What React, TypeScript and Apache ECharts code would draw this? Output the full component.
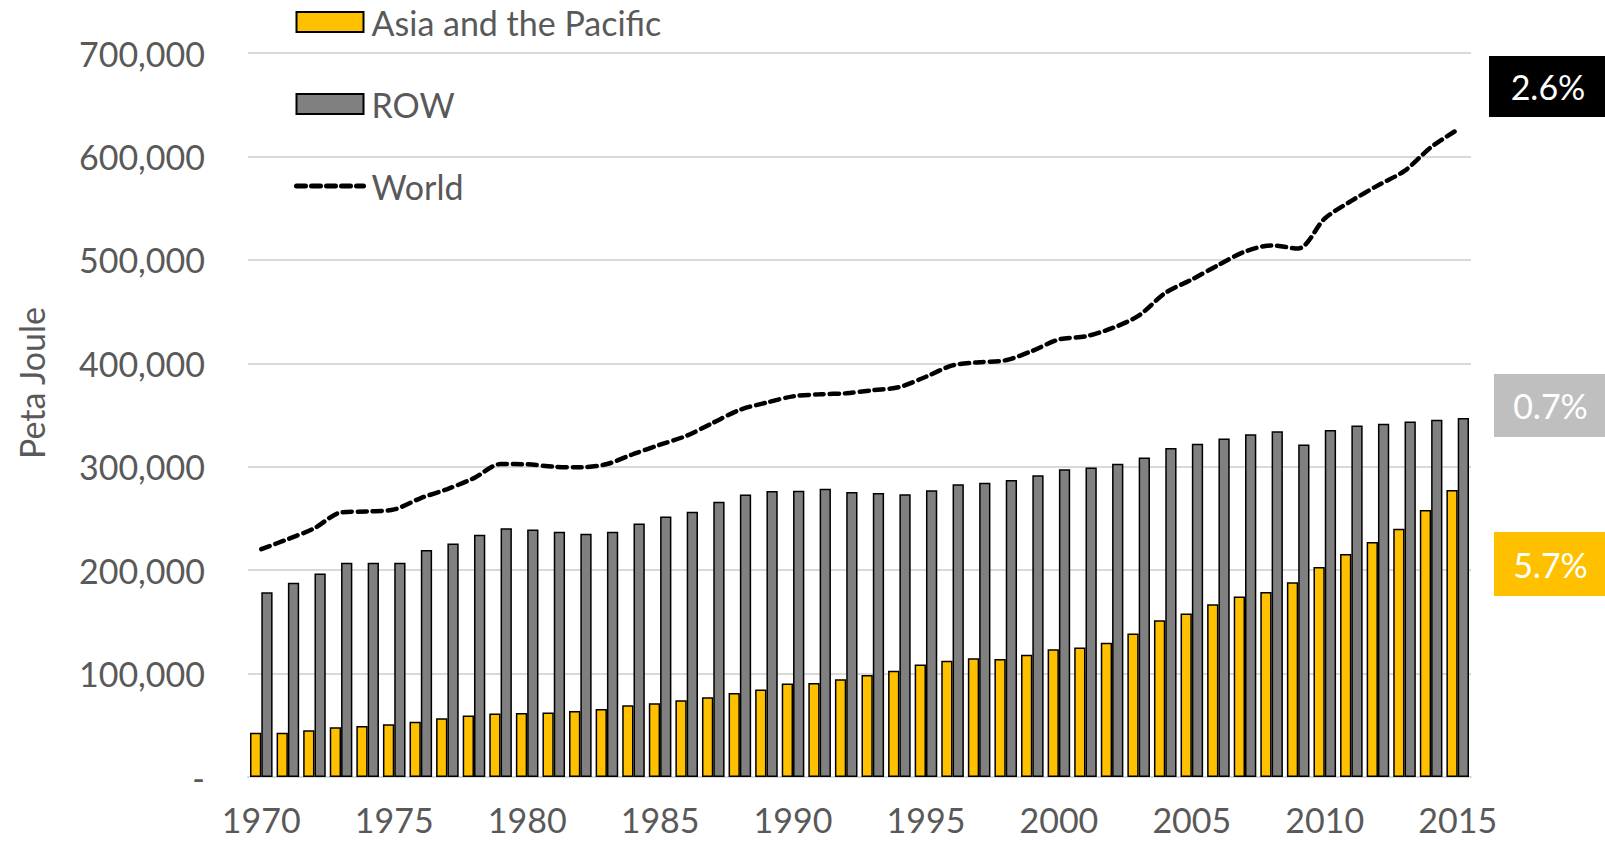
import React, { useEffect, useRef } from "react";
import * as echarts from "echarts";

const years: string[] = [];
for (let y = 1970; y <= 2015; y++) years.push(String(y));

const asiaPacific = [
  42900, 42900, 45200, 48000, 49400, 51000, 53500, 56800, 59400, 61300,
  61900, 62300, 63900, 65800, 69400, 71300, 74200, 77100, 81300, 84500,
  90300, 91000, 94500, 98600, 102800, 108700, 112500, 114900, 114200, 118300,
  123500, 125300, 129800, 138800, 151600, 158100, 167100, 174400, 178900, 188200,
  203100, 215600, 227300, 240100, 258100, 277500,
];

const row = [
  178700, 187700, 196800, 207100, 207100, 207100, 219400, 225800, 234200, 240600,
  239400, 237100, 235200, 237100, 245200, 251900, 256500, 266100, 273200, 276500,
  276800, 278700, 275600, 274700, 273400, 277200, 283000, 284400, 287200, 291700,
  297600, 299300, 302800, 309000, 318000, 322100, 327300, 331500, 334300, 321500,
  335600, 339800, 341500, 343600, 345300, 347100,
];

const world = [
  220300, 230000, 240600, 255800, 256800, 258700, 269700, 278400, 289000, 302600,
  302300, 300000, 299400, 302600, 312300, 321300, 330000, 342600, 355000, 362000,
  368000, 370000, 371000, 374000, 377000, 387000, 398000, 401000, 403000, 412000,
  423000, 426000, 434000, 446000, 468000, 481000, 495000, 508000, 514000, 511000,
  540000, 557000, 572000, 586000, 609000, 626000,
];

const growthLabels = [
  { text: "2.6%", color: "#000000" },
  { text: "0.7%", color: "#BFBFBF" },
  { text: "5.7%", color: "#FFC000" },
];

const FONT = "Lato, 'Open Sans', sans-serif";
const TEXT_COLOR = "#595959";

export default function App() {
  const ref = useRef<HTMLDivElement>(null);

  useEffect(() => {
    if (!ref.current) return;
    const chart = echarts.init(ref.current, undefined, { renderer: "svg" });
    const boxes = [
      { top: 56, left: 1489, h: 61 },
      { top: 374, left: 1494, h: 63 },
      { top: 532, left: 1494, h: 64 },
    ];
    const graphics: any[] = [];
    growthLabels.forEach((g, i) => {
      const b = boxes[i];
      graphics.push({
        type: "rect",
        left: b.left,
        top: b.top,
        shape: { width: 1605 - b.left, height: b.h },
        style: { fill: g.color },
        silent: true,
      });
      graphics.push({
        type: "text",
        x: b.left + (1605 - b.left) / 2 + 1,
        y: b.top + b.h / 2,
        style: {
          text: g.text,
          fill: "#ffffff",
          font: `34px ${FONT}`,
          textAlign: "center",
          textVerticalAlign: "middle",
        },
        silent: true,
      });
    });
    graphics.push({
      type: "text",
      x: 31,
      y: 383,
      rotation: Math.PI / 2,
      style: {
        text: "Peta Joule",
        fill: TEXT_COLOR,
        font: `34px ${FONT}`,
        textAlign: "center",
        textVerticalAlign: "middle",
      },
      silent: true,
    });

    chart.setOption({
      animation: false,
      backgroundColor: "#ffffff",
      textStyle: { fontFamily: FONT },
      grid: { left: 248, right: 134, top: 53, bottom: 65, containLabel: false },
      legend: {
        orient: "vertical",
        left: 289,
        top: -3,
        itemWidth: 67,
        itemHeight: 20,
        itemGap: 42,
        textStyle: { color: TEXT_COLOR, fontSize: 34, lineHeight: 40, fontFamily: FONT, padding: [0, 0, 0, 3] },
        data: [
          { name: "Asia and the Pacific", icon: "rect" },
          { name: "ROW", icon: "rect" },
          {
            name: "World",
            itemStyle: { opacity: 0 },
            lineStyle: { color: "#000000", width: 5, type: [9, 6], cap: "round" },
          },
        ],
      },
      xAxis: {
        type: "category",
        data: years,
        axisLine: { show: true, lineStyle: { color: "#D9D9D9", width: 2 } },
        axisTick: { show: false },
        axisLabel: {
          interval: 4,
          color: TEXT_COLOR,
          fontSize: 34,
          margin: 25,
          fontFamily: FONT,
        },
      },
      yAxis: {
        type: "value",
        min: 0,
        max: 700000,
        interval: 100000,
        axisLine: { show: false },
        axisTick: { show: false },
        axisLabel: {
          color: TEXT_COLOR,
          fontSize: 34,
          margin: 43,
          fontFamily: FONT,
          formatter: (v: number) => (v === 0 ? "-" : v.toLocaleString("en-US")),
        },
        splitLine: { lineStyle: { color: "#D9D9D9", width: 2 } },
      },
      series: [
        {
          name: "Asia and the Pacific",
          type: "bar",
          data: asiaPacific,
          barGap: "0%",
          barCategoryGap: "15%",
          itemStyle: { color: "#FFC000", borderColor: "#000000", borderWidth: 1.5 },
        },
        {
          name: "ROW",
          type: "bar",
          data: row,
          barGap: "0%",
          barCategoryGap: "15%",
          itemStyle: { color: "#808080", borderColor: "#000000", borderWidth: 1.5 },
        },
        {
          name: "World",
          type: "line",
          data: world,
          smooth: 0.3,
          symbol: "none",
          lineStyle: { color: "#000000", width: 4.5, type: [9, 6], cap: "round" },
          itemStyle: { color: "#000000" },
          z: 5,
        },
      ],
      graphic: graphics,
    });
    return () => chart.dispose();
  }, []);

  return <div ref={ref} style={{ width: 1605, height: 842, position: "absolute", left: 0, top: 0 }} />;
}
